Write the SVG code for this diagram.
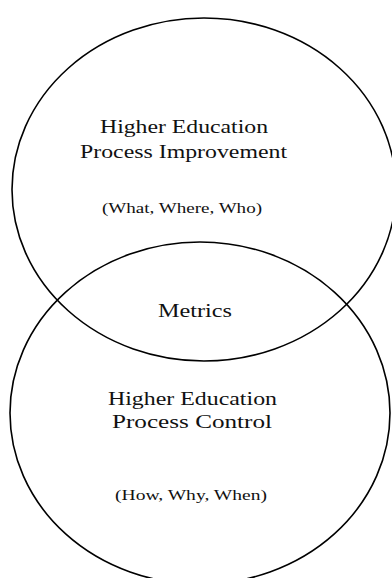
<svg xmlns="http://www.w3.org/2000/svg" width="392" height="578" viewBox="0 0 392 578">
  <style>
    .ring { fill: none; stroke: #000; stroke-width: 1.6; }
    .t { font-family: "Liberation Serif", "Times New Roman", serif; fill: #111; text-anchor: middle; }
    .big { font-size: 19px; }
    .small { font-size: 15px; }
  </style>
  <rect width="392" height="578" fill="#fff"/>
  <g id="improvement">
    <ellipse class="ring" cx="204" cy="189.5" rx="192" ry="171.5"/>
    <text class="t big" x="184" y="133" textLength="168" lengthAdjust="spacingAndGlyphs">Higher Education</text>
    <text class="t big" x="183.5" y="158" textLength="207" lengthAdjust="spacingAndGlyphs">Process Improvement</text>
    <text class="t small" x="182" y="213" textLength="160" lengthAdjust="spacingAndGlyphs">(What, Where, Who)</text>
  </g>
  <g id="metrics">
    <text class="t big" x="195" y="317" textLength="74" lengthAdjust="spacingAndGlyphs">Metrics</text>
  </g>
  <g id="control">
    <ellipse class="ring" cx="200" cy="413" rx="190" ry="171"/>
    <text class="t big" x="192.5" y="405" textLength="169" lengthAdjust="spacingAndGlyphs">Higher Education</text>
    <text class="t big" x="192" y="428" textLength="160" lengthAdjust="spacingAndGlyphs">Process Control</text>
    <text class="t small" x="191" y="500" textLength="152" lengthAdjust="spacingAndGlyphs">(How, Why, When)</text>
  </g>
</svg>
